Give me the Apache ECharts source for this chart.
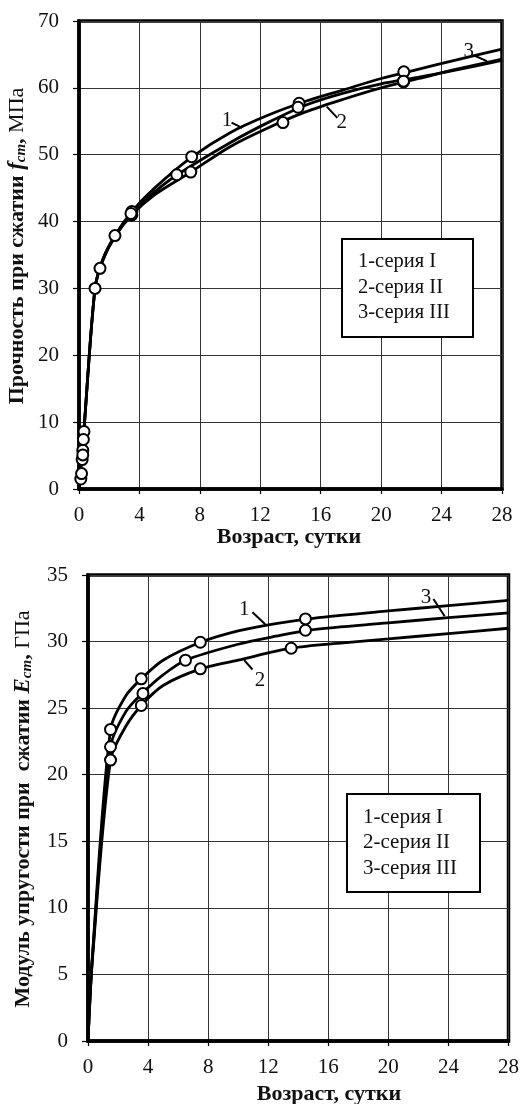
<!DOCTYPE html>
<html>
<head>
<meta charset="utf-8">
<script src="https://cdn.jsdelivr.net/npm/echarts@6/dist/echarts.min.js"></script>
<style>
html, body { margin: 0; padding: 0; background: #fff; }
#chart { width: 522px; height: 1104px; }
</style>
</head>
<body>
<div id="chart"></div>
<script>
const SERIF = '"Liberation Serif", "Times New Roman", serif';

// Shared axis values
const ageMin = 0, ageMax = 28, ageStep = 4;
const seriesNames = ['1-серия I', '2-серия II', '3-серия III'];
const curveTags = ['1', '2', '3'];

// ---- Compressive strength f_cm, MPa ----
const strengthMax = 70, strengthStep = 10;
// measured values [age, MPa]
const strengthPts1 = [[0.33, 8.6], [0.25, 5.8], [1.06, 30.0], [3.5, 41.5], [7.46, 49.7], [14.57, 57.7], [21.5, 62.4]];
const strengthPts2 = [[0.29, 7.4], [0.21, 4.4], [0.12, 1.5], [1.39, 33.0], [3.5, 41.0], [7.4, 47.4], [13.5, 54.8], [21.48, 60.9]];
const strengthPts3 = [[0.25, 5.1], [0.17, 2.3], [2.38, 37.9], [3.44, 41.2], [6.47, 47.0], [14.5, 57.1], [21.48, 61.0]];
// fitted curves [age, MPa]
const strengthCurve1 = [[0, 0], [0.3, 8], [1.06, 30], [1.6, 34.5], [2.4, 38], [3.5, 41.5], [5, 45], [7.5, 49.7], [10, 53.3], [12.5, 55.9], [15, 58], [17.5, 59.7], [20, 61.4], [22.5, 62.8], [25, 64.2], [28, 65.8]];
const strengthCurve2 = [[0, 0], [0.3, 8], [1.06, 30], [1.6, 34.3], [2.4, 37.8], [3.5, 41.0], [5, 44], [7.4, 47.4], [10, 51.2], [12.5, 54.0], [15, 56.4], [17.5, 58.3], [20, 60.0], [22.5, 61.4], [25, 62.8], [28, 64.3]];
const strengthCurve3 = [[0, 0], [0.3, 8], [1.06, 30], [1.6, 34.4], [2.4, 37.9], [3.5, 41.2], [5, 44.4], [6.5, 47.0], [10, 51.8], [12.5, 54.8], [15, 57.4], [17.5, 59.2], [20, 60.6], [22.5, 61.6], [25, 62.7], [28, 64.1]];
// curve tags: [text position, leader start, leader end]
const strengthTags = [
  [[9.8, 55.1], [10.1, 54.8], [10.8, 54.0]],
  [[17.4, 54.8], [17.1, 55.5], [16.4, 57.2]],
  [[25.8, 65.5], [26.2, 64.8], [27.0, 64.0]]
];

// ---- Modulus of elasticity E_cm, GPa ----
const modulusMax = 35, modulusStep = 5;
const modulusPts1 = [[1.5, 23.4], [3.55, 27.2], [7.48, 29.95], [14.48, 31.7]];
const modulusPts2 = [[1.5, 21.1], [3.55, 25.2], [7.48, 27.95], [13.53, 29.5]];
const modulusPts3 = [[1.5, 22.1], [3.66, 26.1], [6.49, 28.6], [14.48, 30.85]];
const modulusCurve1 = [[0, 0], [0.3, 6.5], [1.5, 23.4], [2.5, 25.9], [3.55, 27.2], [5, 28.6], [7.5, 29.95], [10, 30.8], [12.5, 31.35], [15, 31.75], [20, 32.3], [24, 32.7], [28, 33.1]];
const modulusCurve2 = [[0, 0], [0.3, 6.2], [1.5, 21.1], [2.5, 23.6], [3.55, 25.2], [5, 26.7], [7.5, 27.95], [10, 28.6], [13.5, 29.5], [17, 29.9], [20, 30.2], [24, 30.6], [28, 31.0]];
const modulusCurve3 = [[0, 0], [0.3, 6.4], [1.5, 22.1], [2.5, 24.7], [3.6, 26.1], [5, 27.5], [6.5, 28.6], [10, 29.8], [12.5, 30.4], [15, 30.9], [20, 31.4], [24, 31.8], [28, 32.15]];
const modulusTags = [
  [[10.4, 32.4], [10.95, 32.2], [11.8, 31.3]],
  [[11.46, 27.1], [10.95, 27.9], [10.4, 28.6]],
  [[22.5, 33.3], [23.0, 33.2], [23.75, 31.9]]
];

const chart = echarts.init(document.getElementById('chart'), null, { renderer: 'canvas' });

const gridBase = { show: true, borderColor: '#000', borderWidth: 3.5, backgroundColor: '#fff', containLabel: false };

function xAxisFor(gridIndex) {
  return {
    type: 'value', gridIndex, min: ageMin, max: ageMax, interval: ageStep,
    axisLine: { show: true, lineStyle: { color: '#000', width: 3.5 } },
    axisTick: { show: true, length: 5, lineStyle: { color: '#000', width: 1.2 } },
    axisLabel: { color: '#111', fontFamily: SERIF, fontSize: 21, margin: 16 },
    splitLine: { show: true, lineStyle: { color: '#333', width: 1 } }
  };
}
function yAxisFor(gridIndex, max, step) {
  return {
    type: 'value', gridIndex, min: 0, max, interval: step,
    axisLine: { show: true, lineStyle: { color: '#000', width: 3.5 } },
    axisTick: { show: true, length: 6, lineStyle: { color: '#000', width: 1.2 } },
    axisLabel: { color: '#111', fontFamily: SERIF, fontSize: 21, margin: 20 },
    splitLine: { show: true, lineStyle: { color: '#333', width: 1 } }
  };
}
function curve(data, idx) {
  return {
    type: 'line', xAxisIndex: idx, yAxisIndex: idx, data, smooth: 0.3,
    showSymbol: false, symbol: 'none', silent: true, z: 3,
    lineStyle: { color: '#000', width: 2.8 }
  };
}
function points(data, idx) {
  return {
    type: 'scatter', xAxisIndex: idx, yAxisIndex: idx, data, symbol: 'circle', symbolSize: 11, z: 5,
    itemStyle: { color: '#fff', borderColor: '#000', borderWidth: 2, opacity: 1 }
  };
}

chart.setOption({
  animation: false,
  backgroundColor: '#fff',
  grid: [
    Object.assign({ left: 79, top: 21, width: 423, height: 468 }, gridBase),
    Object.assign({ left: 88, top: 575, width: 423, height: 466 }, gridBase)
  ],
  xAxis: [xAxisFor(0), xAxisFor(1)],
  yAxis: [yAxisFor(0, strengthMax, strengthStep), yAxisFor(1, modulusMax, modulusStep)],
  series: [
    curve(strengthCurve1, 0), curve(strengthCurve2, 0), curve(strengthCurve3, 0),
    points(strengthPts1, 0), points(strengthPts2, 0), points(strengthPts3, 0),
    curve(modulusCurve1, 1), curve(modulusCurve2, 1), curve(modulusCurve3, 1),
    points(modulusPts1, 1), points(modulusPts2, 1), points(modulusPts3, 1)
  ]
});

// Axis titles, legend boxes and curve tags
const graphics = [];
function axisTitleX(cx, cy) {
  graphics.push({
    type: 'text', x: cx, y: cy, z: 10,
    style: { text: 'Возраст, сутки', fill: '#111', font: 'bold 22px ' + SERIF, align: 'center', verticalAlign: 'middle' }
  });
}
function axisTitleY(cx, cy, lead, sym, unit) {
  graphics.push({
    type: 'text', x: cx, y: cy, rotation: Math.PI / 2, z: 10,
    style: {
      text: '{b|' + lead + '}{i|' + sym + '}{s|cm}{b|,}{u| ' + unit + '}',
      align: 'center', verticalAlign: 'middle', fill: '#111',
      rich: {
        b: { fontFamily: SERIF, fontWeight: 'bold', fontSize: 22, fill: '#111', lineHeight: 26 },
        i: { fontFamily: SERIF, fontWeight: 'bold', fontStyle: 'italic', fontSize: 23, fill: '#111', lineHeight: 26 },
        s: { fontFamily: SERIF, fontWeight: 'bold', fontStyle: 'italic', fontSize: 15, fill: '#111', lineHeight: 26, padding: [9, 0, 0, 0] },
        u: { fontFamily: SERIF, fontSize: 22, fill: '#111', lineHeight: 26 }
      }
    }
  });
}
function legendBox(x, y, w, h, size) {
  graphics.push({
    type: 'group', x, y, z: 10,
    children: [
      { type: 'rect', shape: { x: 0, y: 0, width: w, height: h }, style: { fill: '#fff', stroke: '#000', lineWidth: 2 } }
    ].concat(seriesNames.map((name, i) => ({
      type: 'text', x: 16, y: 23 + i * 25.5,
      style: { text: name, fill: '#111', font: size + 'px ' + SERIF, align: 'left', verticalAlign: 'middle' }
    })))
  });
}
function addCurveTags(tags, idx) {
  tags.forEach((t, i) => {
    const p = chart.convertToPixel({ gridIndex: idx }, t[0]);
    const a = chart.convertToPixel({ gridIndex: idx }, t[1]);
    const b = chart.convertToPixel({ gridIndex: idx }, t[2]);
    graphics.push({
      type: 'text', x: p[0], y: p[1], z: 10,
      style: { text: curveTags[i], fill: '#111', font: '21px ' + SERIF, align: 'center', verticalAlign: 'middle' }
    });
    graphics.push({
      type: 'line', z: 10,
      shape: { x1: a[0], y1: a[1], x2: b[0], y2: b[1] },
      style: { stroke: '#000', lineWidth: 2 }
    });
  });
}

axisTitleX(289, 537);
axisTitleX(329, 1094);
axisTitleY(17, 246, 'Прочность при сжатии ', 'f', 'МПа');
axisTitleY(23, 809, 'Модуль упругости при  сжатии ', 'E', 'ГПа');
legendBox(342, 239, 131, 98, 20.5);
legendBox(347, 794, 133, 98, 21);
addCurveTags(strengthTags, 0);
addCurveTags(modulusTags, 1);

chart.setOption({ graphic: graphics });
</script>
</body>
</html>
